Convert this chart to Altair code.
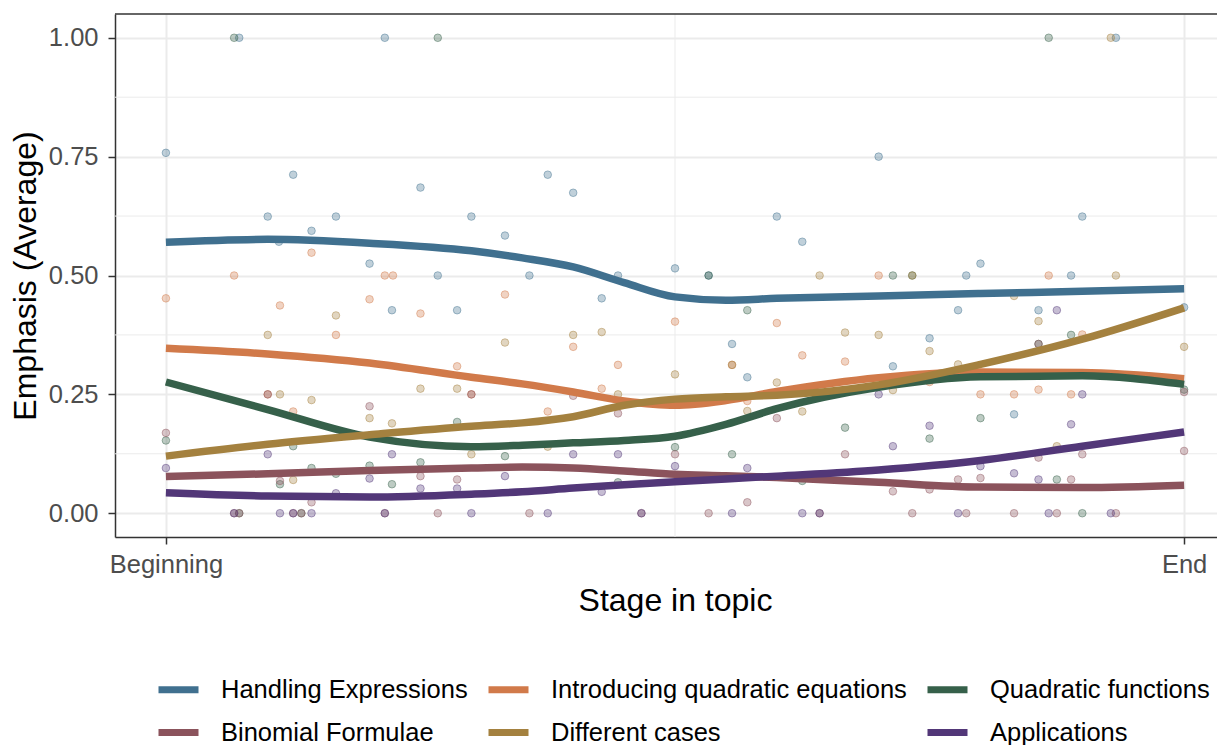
import altair as alt
import pandas as pd

SERIES = ["Handling Expressions", "Introducing quadratic equations", "Quadratic functions",
          "Binomial Formulae", "Different cases", "Applications"]
COLORS = ["#40708F", "#D17A4A", "#36604A", "#8B535C", "#A4813F", "#523778"]

# smoothed trend lines
curve_x = [0, 0.1, 0.2, 0.3, 0.35, 0.4, 0.45, 0.5, 0.55, 0.6, 0.7, 0.8, 0.9, 1.0]
he_curve = [0.570, 0.576, 0.568, 0.552, 0.537, 0.518, 0.485, 0.455, 0.448, 0.452, 0.457, 0.462, 0.467, 0.472]
iqe_curve = [0.347, 0.335, 0.316, 0.286, 0.272, 0.255, 0.236, 0.227, 0.237, 0.256, 0.285, 0.297, 0.296, 0.283]
qf_curve = [0.276, 0.218, 0.160, 0.140, 0.143, 0.148, 0.153, 0.162, 0.187, 0.220, 0.265, 0.287, 0.289, 0.271]
bf_curve = [0.077, 0.083, 0.090, 0.095, 0.097, 0.095, 0.089, 0.082, 0.079, 0.075, 0.065, 0.055, 0.054, 0.059]
dc_curve = [0.120, 0.145, 0.165, 0.183, 0.190, 0.203, 0.227, 0.240, 0.245, 0.248, 0.270, 0.313, 0.366, 0.432]
ap_curve = [0.043, 0.036, 0.034, 0.040, 0.045, 0.053, 0.060, 0.066, 0.072, 0.078, 0.091, 0.111, 0.141, 0.171]

he_x = [0.072, 0.215, 0.933, 0.0, 0.125, 0.25, 0.1, 0.167, 0.3, 0.143, 0.111, 0.2, 0.267, 0.375, 0.4,
        0.6, 0.625, 0.333, 0.5, 0.357, 0.444, 0.533, 0.428, 0.556, 0.571, 0.7, 0.9, 0.8, 0.786, 0.889,
        0.778, 0.857, 0.75, 0.714, 0.833, 1.0, 0.222, 0.286]
he_y = [1.0, 1.0, 1.0, 0.758, 0.712, 0.685, 0.624, 0.624, 0.624, 0.594, 0.571, 0.525, 0.5, 0.712, 0.674,
        0.624, 0.571, 0.584, 0.515, 0.5, 0.5, 0.5, 0.452, 0.356, 0.286, 0.75, 0.624, 0.525, 0.5, 0.5,
        0.427, 0.427, 0.368, 0.309, 0.208, 0.433, 0.427, 0.427]

iqe_x = [0.067, 0.215, 0.223, 0.0, 0.112, 0.2, 0.25, 0.167, 0.286, 0.1, 0.3, 0.125, 0.143, 0.333, 0.5,
         0.6, 0.4, 0.444, 0.556, 0.625, 0.667, 0.428, 0.375, 0.571, 0.7, 0.867, 0.75, 0.8, 0.833, 0.857,
         0.889, 0.9]
iqe_y = [0.5, 0.5, 0.5, 0.452, 0.437, 0.45, 0.42, 0.375, 0.309, 0.25, 0.25, 0.214, 0.548, 0.46, 0.403,
         0.4, 0.35, 0.312, 0.312, 0.332, 0.319, 0.262, 0.214, 0.236, 0.5, 0.5, 0.276, 0.25, 0.25, 0.26,
         0.25, 0.376]

qf_x = [0.067, 0.267, 0.867, 0.286, 0.0, 0.125, 0.143, 0.167, 0.2, 0.25, 0.112, 0.222, 0.533, 0.571,
        0.667, 0.333, 0.5, 0.556, 0.444, 0.625, 0.714, 0.733, 0.857, 0.889, 1.0, 0.8, 0.75, 0.875,
        0.9, 0.072, 0.133]
qf_y = [1.0, 1.0, 1.0, 0.192, 0.153, 0.141, 0.095, 0.083, 0.1, 0.107, 0.061, 0.061, 0.5, 0.427,
        0.18, 0.12, 0.139, 0.124, 0.065, 0.068, 0.5, 0.5, 0.356, 0.375, 0.26, 0.2, 0.157, 0.071,
        0.0, 0.0, 0.0]

bf_x = [0.1, 0.3, 0.2, 0.0, 0.25, 0.112, 0.286, 0.143, 0.4, 0.444, 0.6, 0.5, 0.667, 0.571, 0.857,
        1.0, 0.9, 1.0, 0.857, 0.778, 0.8, 0.889, 0.714, 0.75,
        0.067, 0.072, 0.125, 0.133, 0.215, 0.267, 0.357, 0.467, 0.533, 0.642, 0.733, 0.786, 0.833,
        0.875, 0.933]
bf_y = [0.25, 0.25, 0.225, 0.169, 0.078, 0.068, 0.071, 0.023, 0.247, 0.21, 0.2, 0.124, 0.124, 0.023, 0.356,
        0.255, 0.124, 0.131, 0.117, 0.071, 0.074, 0.071, 0.046, 0.05,
        0.0, 0.0, 0.0, 0.0, 0.0, 0.0, 0.0, 0.0, 0.0, 0.0, 0.0, 0.0, 0.0,
        0.0, 0.0]

dc_x = [0.928, 0.167, 0.1, 0.25, 0.286, 0.112, 0.143, 0.2, 0.222, 0.3, 0.125, 0.333, 0.4, 0.428, 0.5,
        0.556, 0.6, 0.667, 0.444, 0.571, 0.625, 0.642, 0.375, 0.833, 0.857, 0.7, 0.75, 1.0, 0.778,
        0.714, 0.875, 0.933, 0.733]
dc_y = [1.0, 0.416, 0.375, 0.262, 0.262, 0.25, 0.238, 0.2, 0.189, 0.124, 0.07, 0.359, 0.375, 0.381, 0.292,
        0.312, 0.275, 0.38, 0.25, 0.215, 0.214, 0.5, 0.14, 0.457, 0.404, 0.375, 0.341, 0.35, 0.313,
        0.259, 0.141, 0.5, 0.5]

ap_x = [0.1, 0.222, 0.0, 0.2, 0.25, 0.286, 0.167, 0.4, 0.444, 0.5, 0.571, 0.333, 0.428, 0.7, 0.875,
        0.9, 0.75, 0.889, 0.714, 0.8, 0.833, 0.857,
        0.067, 0.112, 0.125, 0.143, 0.215, 0.3, 0.375, 0.467, 0.556, 0.625, 0.642, 0.778, 0.867, 0.928]
ap_y = [0.124, 0.124, 0.095, 0.073, 0.052, 0.052, 0.042, 0.124, 0.124, 0.099, 0.095, 0.078, 0.045, 0.25, 0.427,
        0.25, 0.184, 0.187, 0.141, 0.099, 0.084, 0.071,
        0.0, 0.0, 0.0, 0.0, 0.0, 0.0, 0.0, 0.0, 0.0, 0.0, 0.0, 0.0, 0.0, 0.0]

y_major = [0, 0.25, 0.5, 0.75, 1.0]
y_minor = [0.125, 0.375, 0.625, 0.875]
x_major = [0, 1]
x_minor = [0.5]
x_labels = ["Beginning", "End"]

# ---- build tables ----
curves = [he_curve, iqe_curve, qf_curve, bf_curve, dc_curve, ap_curve]
pts = [(he_x, he_y), (iqe_x, iqe_y), (qf_x, qf_y), (bf_x, bf_y), (dc_x, dc_y), (ap_x, ap_y)]

curve_rows = []
for s, c in zip(SERIES, curves):
    for xv, yv in zip(curve_x, c):
        curve_rows.append({"series": s, "x": xv, "y": yv})
curve_df = pd.DataFrame(curve_rows)

point_rows = []
for s, (xs_, ys_) in zip(SERIES, pts):
    for xv, yv in zip(xs_, ys_):
        point_rows.append({"series": s, "x": xv, "y": yv})
point_df = pd.DataFrame(point_rows)

FONT = "Liberation Sans"
# plot area is cut by the right edge of the picture, as in the original
xs = alt.Scale(domain=[-0.05, 1.0323], nice=False, zero=False)
ys = alt.Scale(domain=[-0.05, 1.05], nice=False, zero=False)
cscale = alt.Scale(domain=SERIES, range=COLORS)
# same mapping for the points, listed in reverse so its (hidden) legend stays separate
pscale = alt.Scale(domain=SERIES[::-1], range=COLORS[::-1])

label_expr = "datum.value == 0 ? '%s' : '%s'" % (x_labels[0], x_labels[1])

x_axis = alt.Axis(values=x_major, labelExpr=label_expr, title="Stage in topic",
                  labelFontSize=25.5, labelColor="#4D4D4D", labelFont=FONT,
                  titleFontSize=32, titleFont=FONT, titleFontWeight="normal", titleColor="black",
                  titleX=560, titleAnchor="middle",
                  tickSize=7, tickWidth=1.5, tickColor="#333333", labelPadding=8, titlePadding=8,
                  domain=True, domainColor="#333333", domainWidth=1.5,
                  grid=True, gridColor="#EBEBEB", gridWidth=2)
y_axis = alt.Axis(values=y_major, format=".2f", title="Emphasis (Average)",
                  labelFontSize=25.5, labelColor="#4D4D4D", labelFont=FONT,
                  titleFontSize=32, titleFont=FONT, titleFontWeight="normal", titleColor="black",
                  tickSize=7, tickWidth=1.5, tickColor="#333333", labelPadding=10, titlePadding=6,
                  domain=True, domainColor="#333333", domainWidth=1.5,
                  grid=True, gridColor="#EBEBEB", gridWidth=2)

minor_y = alt.Chart(pd.DataFrame({"y": y_minor})).mark_rule(color="#EBEBEB", strokeWidth=1).encode(
    y=alt.Y("y:Q", scale=ys, axis=y_axis))
minor_x = alt.Chart(pd.DataFrame({"x": x_minor})).mark_rule(color="#EBEBEB", strokeWidth=1).encode(
    x=alt.X("x:Q", scale=xs, axis=x_axis))

points = alt.Chart(point_df).mark_point(filled=True, size=58, fillOpacity=0.33, strokeOpacity=0.45,
                                        strokeWidth=1, opacity=1).encode(
    x=alt.X("x:Q", scale=xs, axis=x_axis),
    y=alt.Y("y:Q", scale=ys, axis=y_axis),
    fill=alt.Fill("series:N", scale=pscale, legend=None),
    stroke=alt.Stroke("series:N", scale=pscale, legend=None),
)

lines = alt.Chart(curve_df).mark_line(strokeWidth=7.5, interpolate="monotone").encode(
    x=alt.X("x:Q", scale=xs, axis=x_axis),
    y=alt.Y("y:Q", scale=ys, axis=y_axis),
    color=alt.Color("series:N", scale=cscale, sort=SERIES,
                    legend=alt.Legend(title=None, orient="none", legendX=40, legendY=652,
                                      direction="horizontal",
                                      columns=3, symbolType="stroke", symbolSize=1600,
                                      symbolStrokeWidth=7, labelFontSize=25.5, labelFont=FONT,
                                      labelColor="black", labelOffset=19, columnPadding=6,
                                      rowPadding=5, padding=0, labelLimit=1000)),
    detail="series:N",
)

# top edge of the panel frame
top_edge = alt.Chart(pd.DataFrame({"k": [0]})).mark_rule(color="#333333", strokeWidth=1.5).encode(
    y=alt.value(0))

chart = alt.layer(minor_y, minor_x, points, lines, top_edge).properties(
    width=1102, height=523, autosize="none",
    padding={"left": 107, "top": 6, "right": 0, "bottom": 208},
).configure_view(stroke=None)

chart.save("out.html", embed_options={"renderer": "svg", "actions": False})
